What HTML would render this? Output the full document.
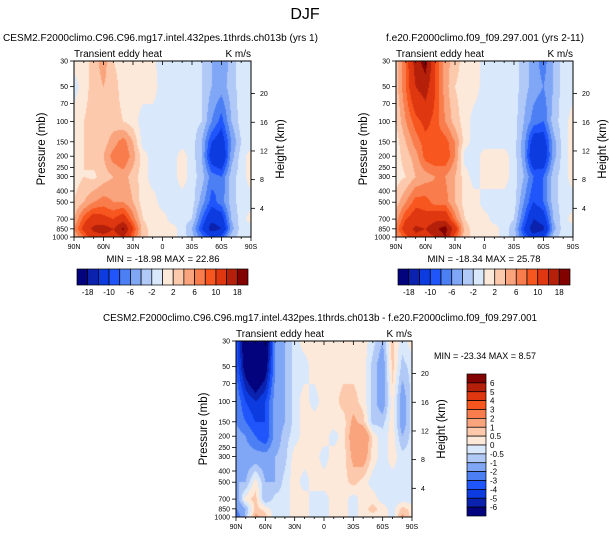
<!DOCTYPE html>
<html><head><meta charset="utf-8">
<style>
body{margin:0;background:#fff;width:609px;height:538px;position:relative;overflow:hidden;font-family:"Liberation Sans",Arial,sans-serif;}
canvas{position:absolute;}
svg{position:absolute;left:0;top:0;}
text{font-family:"Liberation Sans",Arial,sans-serif;fill:#000;}
</style></head>
<body>
<canvas id="c1" width="177" height="176" style="left:74px;top:61px"></canvas>
<canvas id="c2" width="177" height="176" style="left:396px;top:61px"></canvas>
<canvas id="c3" width="176" height="176" style="left:236px;top:341px"></canvas>
<svg id="svg" width="609" height="538"></svg>
<script>
// ---------- data ----------
const lats = ["90N","80N","70N","60N","50N","40N","30N","20N","10N","0","10S","20S","30S","40S","50S","60S","70S","80S","90S"];
const pLevels = [30,50,100,150,200,300,500,700,850,1000];
const latTicks = ["90N","60N","30N","0","30S","60S","90S"];
const pTicks = [30,50,70,100,150,200,250,300,400,500,700,850,1000];
const hTicks = [4,8,12,16,20];
const levelsTop = [-18,-14,-10,-8,-6,-4,-2,0,2,4,6,8,10,14,18];
const levelLabelsTop = ["-18","-10","-6","-2","2","6","10","18"];
const levelsDiff = [-6,-5,-4,-3,-2,-1,-0.5,0,0.5,1,2,3,4,5,6];
const colorsTop = ["#03037e","#0a22ad","#0c3be0","#1f55fb","#4c7ff4","#80a6f6","#b0c9f7","#d9e8fb","#fde9d9","#fcc9ac","#f9a47c","#f97d4c","#f8561f","#df3710","#b5200b","#820200"];
const field1 = [
[1,1,3,5,2,1,1,1,0.5,-1,-1,-1,-1,-2,-4,-6,-3,-1,-1],
[-1,1,3,4,3,1,1,1,1,-1,-1,-1,-1,-2,-4,-5,-3,-1,-1],
[1,2,3,3,3,2,1,-1,-1,-1,-1,-1,-1,-2,-6,-9,-4,-1,-1],
[1,2,3,3,5,7,4,-1,-1,-1,-1,-1,-1,-4,-10,-12,-6,-2,-1],
[1,2,3,4,7,8,5,1,-1,-1,-1,1,-1,-4,-12,-14,-5,-1,1],
[1,2,1.5,3,4,5,3,1,-1,-1,-1,1,-1,-3,-7,-8,-3,-1,1],
[2,4,6,7,6,6,4,1,1,-1,-1,-1,-1,-5,-9,-7,-3,-1,-1],
[4,9,12,11,10,12,7,2,1,1,-1,-1,-2,-8,-13,-12,-4,-1,1],
[6,11,15,16,14,19,10,3,1,1,1,-1,-4,-10,-16,-14,-5,-1,-1],
[4,8,12,13,12,14,8,3,1,1,1,-1,-3,-7,-10,-9,-3,-1,-1]];
const field2 = [
[3,8,16,20,10,5,3,1,1,-1,-1,-1,-1,-3,-5,-7,-4,-1,-1],
[3,8,14,16,10,5,2,1,1,-1,-1,-1,-1,-3,-5,-6,-4,-1,-1],
[2,6,9,11,9,6,3,1,-1,-1,-2,-1,-1,-4,-7,-8,-3,-1,1],
[1,4,7,9,9,9,6,1,-1,-1,-1,-1,-1,-5,-12,-12,-5,-1,1],
[1,3,5,9,10,10,6,-1,-1,1,1,1,-1,-5,-14,-13,-5,-1,1],
[1,2,4,5,6,6,4,1,-1,1,1,1,-1,-4,-8,-8,-3,-1,1],
[3,6,9,9,7,7,4,1,1,-1,-1,-1,-1,-6,-10,-8,-3,-1,-1],
[5,10,12,11,13,13,7,2,1,1,-1,-1,-2,-8,-14,-12,-4,-1,1],
[7,12,15,14,17,20,12,3,1,1,1,-1,-3,-10,-17,-15,-5,-1,-1],
[5,9,13,12,14,18,9,3,1,1,1,-1,-3,-8,-12,-10,-3,-1,-1]];
const field3 = [
[-3,-8,-9,-8,-2,-1,-0.3,0.3,0.3,0.3,0.3,0.3,0.3,0.3,-0.3,-1,0.7,-0.3,0.3],
[-3,-7,-9,-7,-2,-1,-0.3,-0.3,0.3,0.3,0.3,0.3,0.3,0.3,-0.7,-1.5,0.7,-0.7,-0.3],
[-2,-4,-5,-4,-1.5,-1,-0.3,0.3,-0.3,0.3,0.3,0.7,0.7,0.3,-0.7,-1.5,0.3,-1.5,-0.3],
[-2,-3,-4,-4,-1.5,-1,-0.3,0.3,0.3,0.3,0.3,0.3,1.2,0.7,-0.7,-0.7,0.3,-1.5,-0.3],
[-1.5,-2,-3,-4,-1.5,-0.7,-0.3,0.3,0.3,0.3,-0.3,0.3,1.5,2,0.3,-0.3,0.3,-1,-0.3],
[-1,-1.5,-1.5,-1.5,-1,-0.7,0.3,0.3,0.3,-0.3,0.3,0.3,1.2,1.5,0.3,-0.3,0.3,-0.3,-0.3],
[-1,-1,0.3,-1,-1,-0.3,0.3,-0.3,0.3,0.3,0.3,0.3,0.7,0.3,-0.3,-0.3,-0.3,-0.3,-0.3],
[-1.5,0.3,0.7,-1,-0.3,-0.3,0.3,0.3,-0.3,-0.3,0.3,0.3,-0.3,0.3,0.3,-0.3,-0.3,-0.3,-0.3],
[-2,-1,0.7,0.3,-0.3,-0.3,0.3,0.3,-0.3,-0.3,0.3,0.3,-0.3,0.3,0.7,0.3,-0.3,0.7,0.3],
[-3,-0.7,1.2,0.7,-0.3,-0.3,0.3,0.3,-0.3,-0.3,0.3,0.3,-0.3,0.3,0.3,0.3,-0.3,1.2,0.3]];

// ---------- helpers ----------
const NS="http://www.w3.org/2000/svg";
const svg=document.getElementById('svg');
function mk(tag,attrs,txt){const e=document.createElementNS(NS,tag);for(const k in attrs)e.setAttribute(k,attrs[k]);if(txt!==undefined)e.textContent=txt;svg.appendChild(e);return e;}
const LOGR=Math.log(1000/30);
function yOf(p,y0,h){return y0+h*Math.log(p/30)/LOGR;}
function hex(c){return [parseInt(c.substr(1,2),16),parseInt(c.substr(3,2),16),parseInt(c.substr(5,2),16)];}
function colorIdx(v,levels){let i=0;while(i<levels.length&&v>=levels[i])i++;return i;}
function fill(id,field,levels,colors){
  const cv=document.getElementById(id),ctx=cv.getContext('2d');
  const W=cv.width,H=cv.height,img=ctx.createImageData(W,H);
  const rgb=colors.map(hex);
  const lp=pLevels.map(p=>Math.log(p/30)/LOGR);
  for(let py=0;py<H;py++){
    const t=(py+0.5)/H;let k=0;while(k<lp.length-2&&t>lp[k+1])k++;
    let fy=(t-lp[k])/(lp[k+1]-lp[k]);fy=Math.max(0,Math.min(1,fy));
    for(let px=0;px<W;px++){
      const fx=(px+0.5)/W*(lats.length-1);const i=Math.min(lats.length-2,Math.floor(fx));const ax=fx-i;
      const v=(field[k][i]*(1-ax)+field[k][i+1]*ax)*(1-fy)+(field[k+1][i]*(1-ax)+field[k+1][i+1]*ax)*fy;
      const c=rgb[colorIdx(v,levels)];const o=(py*W+px)*4;
      img.data[o]=c[0];img.data[o+1]=c[1];img.data[o+2]=c[2];img.data[o+3]=255;
    }
  }
  ctx.putImageData(img,0,0);
}
function axes(x0,y0,w,h,prefix){
  let e=mk('rect',{x:x0,y:y0,width:w,height:h,fill:'none',stroke:'#000','stroke-width':1});
  
  pTicks.forEach(p=>{const y=yOf(p,y0,h);
    mk('line',{x1:x0-4,x2:x0,y1:y,y2:y,stroke:'#000','stroke-width':0.8});
    const t=mk('text',{x:x0-6,y:y+2.5,'font-size':7,'text-anchor':'end'},String(p));
    });
  for(let i=0;i<lats.length;i++){const x=x0+w*i/(lats.length-1);const major=i%3===0;
    mk('line',{x1:x,x2:x,y1:y0+h,y2:y0+h+(major?4:2),stroke:'#000','stroke-width':0.8});
    mk('line',{x1:x,x2:x,y1:y0,y2:y0+(major?4:2),stroke:'#000','stroke-width':0.8});}
  latTicks.forEach((l,j)=>{const x=x0+w*j/(latTicks.length-1);
    const t=mk('text',{x:x,y:y0+h+12,'font-size':7,'text-anchor':'middle'},l);
    });
  hTicks.forEach(z=>{const p=1000*Math.exp(-z/7);const y=yOf(p,y0,h);
    mk('line',{x1:x0+w,x2:x0+w+4,y1:y,y2:y,stroke:'#000','stroke-width':0.8});
    const t=mk('text',{x:x0+w+9,y:y+2.5,'font-size':7},String(z));
    });
  let a=mk('text',{x:0,y:0,'font-size':11.5,'text-anchor':'middle',transform:`translate(${x0-29},${y0+h/2}) rotate(-90)`},'Pressure (mb)');
  
  a=mk('text',{x:0,y:0,'font-size':11.5,'text-anchor':'middle',transform:`translate(${x0+w+33},${y0+h/2}) rotate(-90)`},'Height (km)');
  
  a=mk('text',{x:x0,y:y0-4,'font-size':10},'Transient eddy heat');
  
  a=mk('text',{x:x0+w,y:y0-4,'font-size':10,'text-anchor':'end'},'K m/s');
  
}
function hbar(x0,y0,w,h,prefix){
  const n=colorsTop.length,bw=w/n;
  colorsTop.forEach((c,i)=>{const r=mk('rect',{x:x0+i*bw,y:y0,width:bw,height:h,fill:c,stroke:'#000','stroke-width':0.7});
    });
  levelLabelsTop.forEach((l,j)=>{const x=x0+bw*(1+2*j);
    const t=mk('text',{x:x,y:y0+h+10,'font-size':8,'text-anchor':'middle'},l);
    });
}
// ---------- draw ----------
fill('c1',field1,levelsTop,colorsTop);
fill('c2',field2,levelsTop,colorsTop);
fill('c3',field3,levelsDiff,colorsTop);
let t=mk('text',{x:305,y:19,'font-size':16,'text-anchor':'middle'},'DJF');

t=mk('text',{x:3,y:41,'font-size':10.5,textLength:315,lengthAdjust:'spacingAndGlyphs'},'CESM2.F2000climo.C96.C96.mg17.intel.432pes.1thrds.ch013b (yrs 1)');

t=mk('text',{x:386,y:41,'font-size':10.5,textLength:198,lengthAdjust:'spacingAndGlyphs'},'f.e20.F2000climo.f09_f09.297.001 (yrs 2-11)');

t=mk('text',{x:103,y:321,'font-size':10.5,textLength:434,lengthAdjust:'spacingAndGlyphs'},'CESM2.F2000climo.C96.C96.mg17.intel.432pes.1thrds.ch013b - f.e20.F2000climo.f09_f09.297.001');

axes(74,61,177,176,'panel1');
axes(396,61,177,176,'panel2');
axes(236,341,176,176,'panel3');
t=mk('text',{x:163,y:262,'font-size':9.5,'text-anchor':'middle'},'MIN = -18.98  MAX =  22.86');

t=mk('text',{x:484,y:262,'font-size':9.5,'text-anchor':'middle'},'MIN = -18.34  MAX =  25.78');

t=mk('text',{x:434,y:359,'font-size':9,'text-anchor':'start'},'MIN = -23.34  MAX =  8.57');

hbar(77,269,171,16,'panel1');
hbar(398,269,172,16,'panel2');
// vertical colorbar for difference
(function(){const x0=467,y0=374,w=19,h=142,n=colorsTop.length,bh=h/n;
  for(let i=0;i<n;i++){const r=mk('rect',{x:x0,y:y0+i*bh,width:w,height:bh,fill:colorsTop[n-1-i],stroke:'#000','stroke-width':0.7});
    }
  for(let j=0;j<levelsDiff.length;j++){const v=levelsDiff[levelsDiff.length-1-j];
    const tt=mk('text',{x:x0+w+4,y:y0+bh*(j+1)+3,'font-size':8},String(v));
    }
})();
</script>
</body></html>
